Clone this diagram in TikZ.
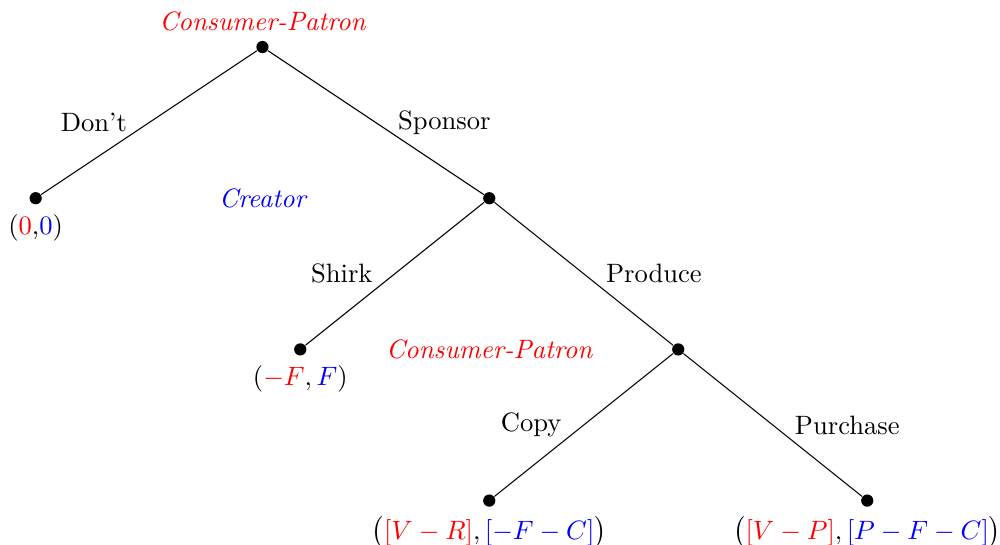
\documentclass[tikz,border=0pt]{standalone}
\usepackage{amsmath}
\usepackage{tikz}
\usetikzlibrary{positioning, calc}

\begin{document}
\begin{tikzpicture}[
    decision/.style={circle, fill, inner sep=0pt, minimum size=4.6pt},
    player/.style={font=\itshape},
    moveleft/.style={midway, left=0.17cm},
    moveright/.style={midway, right=0.17cm},
]
\useasboundingbox (-3.472,0.622) rectangle (9.756,-6.587);
% decision points and outcomes
\node[decision, label={[player, red]above:Consumer-Patron}] (root) at (0,0) {};
\node[decision, label=below:{(\textcolor{red}{0},\textcolor{blue}{0})}] (dont) at (-3,-2) {};
\node[decision] (sponsor) at (3,-2) {};
\node[decision, label=below:{$(\textcolor{red}{-F}, \textcolor{blue}{F})$}] (shirk) at (0.5,-4) {};
\node[decision] (produce) at (5.5,-4) {};
\node[decision, label=below:{$\big(\textcolor{red}{[V-R]}, \textcolor{blue}{[-F-C]}\big)$}] (copy) at (3,-6) {};
\node[decision, label=below:{$\big(\textcolor{red}{[V-P]}, \textcolor{blue}{[P-F-C]}\big)$}] (purchase) at (8,-6) {};
% players
\node[player, blue] (creator) at (root |- sponsor) {Creator};
\node[player, red] (patron) at (sponsor |- produce) {Consumer-Patron};
% moves
\draw (root) -- node[moveleft] {Don't} (dont);
\draw (root) -- node[moveright] {Sponsor} (sponsor);
\draw (sponsor) -- node[moveleft] {Shirk} (shirk);
\draw (sponsor) -- node[moveright] {Produce} (produce);
\draw (produce) -- node[moveleft] {Copy} (copy);
\draw (produce) -- node[moveright] {Purchase} (purchase);
\end{tikzpicture}
\end{document}
